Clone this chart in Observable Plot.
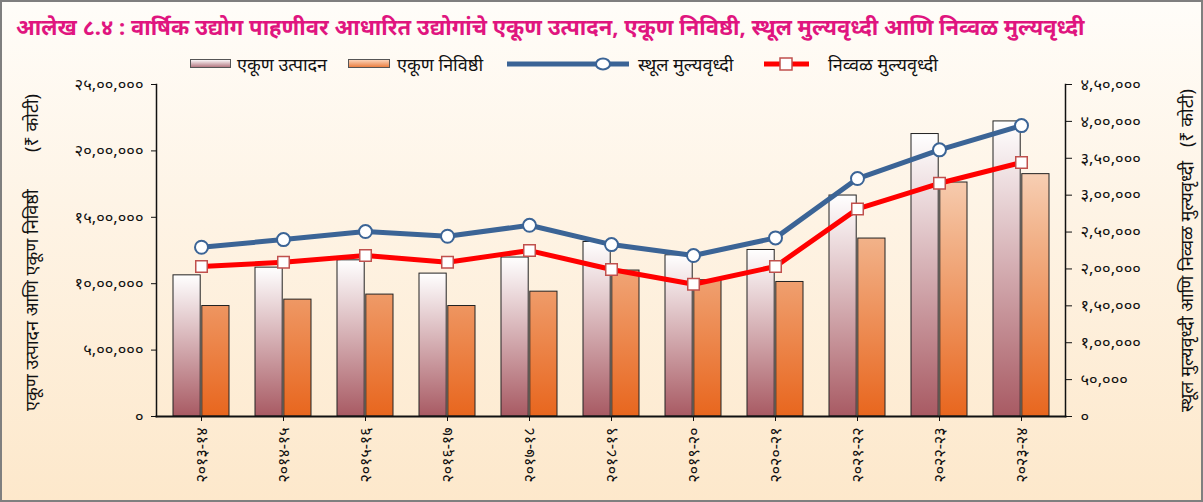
<!DOCTYPE html>
<html>
<head>
<meta charset="utf-8">
<script src="https://cdn.jsdelivr.net/npm/d3@7"></script>
<script src="https://cdn.jsdelivr.net/npm/@observablehq/plot@0.6"></script>
<style>
  html, body { margin: 0; padding: 0; }
  body { width: 1203px; height: 502px; overflow: hidden; font-family: "Noto Sans", "Noto Sans Devanagari", "Lohit Devanagari", sans-serif; }
  #wrap { position: relative; width: 1203px; height: 502px; background: linear-gradient(to bottom, #fffdf9 0%, #fef4e6 40%, #fde8cb 100%); }
  #border { position: absolute; left: 0; top: 0; width: 1203px; height: 502px; box-sizing: border-box; border: 2px solid #7f7f7f; pointer-events: none; }
  #title { position: absolute; left: 16px; top: 11px; font-size: 22px; font-weight: bold; color: #e0157f; white-space: nowrap; }
  #legend { position: absolute; left: 0; top: 52px; width: 1203px; height: 24px; font-size: 18px; color: #111; }
  #legend .item { position: absolute; top: 0; display: flex; align-items: center; height: 24px; white-space: nowrap; }
  #chart { position: absolute; left: 0; top: 76px; }
</style>
</head>
<body>
<div id="wrap">
  <div id="title"></div>
  <div id="legend"></div>
  <div id="chart"></div>
  <div id="border"></div>
</div>
<script>
const titleText = "आलेख ८.४ : वार्षिक उद्योग पाहणीवर आधारित उद्योगांचे एकूण उत्पादन, एकूण निविष्ठी, स्थूल मुल्यवृध्दी आणि निव्वळ मुल्यवृध्दी";
const years = ["२०१३-१४","२०१४-१५","२०१५-१६","२०१६-१७","२०१७-१८","२०१८-१९","२०१९-२०","२०२०-२१","२०२१-२२","२०२२-२३","२०२३-२४"];
const seriesNames = ["एकूण उत्पादन", "एकूण निविष्ठी", "स्थूल मुल्यवृध्दी", "निव्वळ मुल्यवृध्दी"];
// Left axis (₹ crore)
const grossOutput = [1063000, 1121000, 1176000, 1076000, 1197000, 1314000, 1214000, 1254000, 1664000, 2127000, 2222000];
const totalInput  = [832000, 880000, 918000, 832000, 940000, 1099000, 1026000, 1013000, 1340000, 1762000, 1825000];
// Right axis (₹ crore)
const gva = [229400, 239800, 250700, 244300, 259200, 233000, 218200, 242100, 322500, 361400, 394300];
const nva = [203300, 209100, 218200, 209100, 224900, 199200, 179300, 203300, 281400, 316100, 344200];
const leftTicks = [0, 500000, 1000000, 1500000, 2000000, 2500000];
const rightTicks = [0, 50000, 100000, 150000, 200000, 250000, 300000, 350000, 400000, 450000];
const leftLabel = "एकूण उत्पादन आणि एकूण निविष्ठी\u00a0\u00a0\u00a0\u00a0\u00a0\u00a0\u00a0\u00a0(₹ कोटी)";
const rightLabel = "स्थूल मुल्यवृध्दी आणि निव्वळ मुल्यवृध्दी\u00a0\u00a0\u00a0(₹ कोटी)";

const devDigits = "०१२३४५६७८९";
const toDev = s => String(s).replace(/[0-9]/g, d => devDigits[+d]);
function indian(n) {
  const s = String(Math.round(n));
  if (s.length <= 3) return s;
  const last3 = s.slice(-3);
  const rest = s.slice(0, -3).replace(/\B(?=(\d{2})+(?!\d))/g, ",");
  return rest + "," + last3;
}
const fmt = n => toDev(indian(n));

const k = leftTicks[leftTicks.length - 1] / rightTicks[rightTicks.length - 1]; // right->left scale factor

const bars = years.map((y, i) => ({year: y, out: grossOutput[i], inp: totalInput[i]}));
const lines = years.map((y, i) => ({year: y, gva: gva[i] * k, nva: nva[i] * k}));

document.getElementById("title").textContent = titleText;

// Legend
const legend = document.getElementById("legend");
function addItem(left, swatchSvg, text, gap) {
  const d = document.createElement("div");
  d.className = "item";
  d.style.left = left + "px";
  d.innerHTML = swatchSvg + `<span style="margin-left:${gap}px">${text}</span>`;
  legend.appendChild(d);
}
addItem(190, `<svg width="41" height="10"><defs><linearGradient id="lg1" x1="0" y1="0" x2="0" y2="1"><stop offset="0" stop-color="#ffffff"/><stop offset="1" stop-color="#b0707a"/></linearGradient></defs><rect x="0.5" y="0.5" width="40" height="8" fill="url(#lg1)" stroke="#555"/></svg>`, seriesNames[0], 6);
addItem(348, `<svg width="42" height="10"><defs><linearGradient id="lg2" x1="0" y1="0" x2="0" y2="1"><stop offset="0" stop-color="#fbd8c0"/><stop offset="1" stop-color="#ea7a3a"/></linearGradient></defs><rect x="0.5" y="0.5" width="41" height="8" fill="url(#lg2)" stroke="#555"/></svg>`, seriesNames[1], 7);
addItem(506, `<svg width="124" height="16"><line x1="1" y1="8" x2="123" y2="8" stroke="#3b6496" stroke-width="5"/><ellipse cx="97" cy="8" rx="7" ry="5.5" fill="#fff" stroke="#3b6496" stroke-width="2"/></svg>`, seriesNames[2], 8);
addItem(764, `<svg width="45" height="16"><line x1="0" y1="8" x2="45" y2="8" stroke="#ff0000" stroke-width="5"/><rect x="16" y="2" width="12" height="12" fill="#fff" stroke="#c0504d" stroke-width="1.5"/></svg>`, seriesNames[3], 19);

const W = 1203, H = 426;
const plot = Plot.plot({
  width: W,
  height: H,
  marginLeft: 156,
  marginRight: W - 1065,
  marginTop: 8,
  marginBottom: 86,
  style: {background: "transparent", fontFamily: "'Noto Sans', 'Noto Sans Devanagari', sans-serif", fontSize: "14px", color: "#111", overflow: "visible"},
  x: {type: "band", domain: years, padding: 0},
  y: {domain: [0, leftTicks[leftTicks.length - 1]]},
  marks: [
    Plot.barY(bars, {x: "year", y: "out", insetLeft: 13, insetRight: 41.8, fill: "url(#gOut)", stroke: "#222", strokeWidth: 1}),
    Plot.barY(bars, {x: "year", y: "inp", insetLeft: 41.8, insetRight: 13, fill: "url(#gInp)", stroke: "#222", strokeWidth: 1}),
    Plot.line(lines, {x: "year", y: "gva", stroke: "#3b6496", strokeWidth: 5}),
    Plot.dot(lines, {x: "year", y: "gva", symbol: "circle", r: 6.5, fill: "#fff", stroke: "#3b6496", strokeWidth: 2}),
    Plot.line(lines, {x: "year", y: "nva", stroke: "#ff0000", strokeWidth: 5}),
    Plot.dot(lines, {x: "year", y: "nva", symbol: "square", r: 6.5, fill: "#fff", stroke: "#c0504d", strokeWidth: 1.5}),
    Plot.axisX({tickRotate: -90, tickSize: 5, tickPadding: 6, label: null, fontSize: 16}),
    Plot.axisY(leftTicks, {anchor: "left", tickSize: 5, tickPadding: 8, tickFormat: fmt, label: null, fontSize: 16.5}),
    Plot.axisY(rightTicks.map(v => v * k), {anchor: "right", tickSize: 6, tickPadding: 9, tickFormat: d => fmt(d / k), label: null, fontSize: 16.5}),
    Plot.frame({anchor: "left", stroke: "#111", strokeWidth: 1.5}),
    Plot.frame({anchor: "right", stroke: "#111", strokeWidth: 1.5}),
    Plot.frame({anchor: "bottom", stroke: "#111", strokeWidth: 2}),
    Plot.text([leftLabel], {text: d => d, frameAnchor: "left", dx: -124, dy: 2, rotate: -90, textAnchor: "middle", lineAnchor: "middle", fontSize: 18, fill: "#111"}),
    Plot.text([rightLabel], {text: d => d, frameAnchor: "right", dx: 1187 - 1065, dy: 0, rotate: -90, textAnchor: "middle", lineAnchor: "middle", fontSize: 18, fill: "#111"})
  ]
});

// gradients
const ns = "http://www.w3.org/2000/svg";
const defs = document.createElementNS(ns, "defs");
defs.innerHTML = `
  <linearGradient id="gOut" x1="0" y1="0" x2="0" y2="1">
    <stop offset="0" stop-color="#ffffff"/>
    <stop offset="1" stop-color="#a85a63"/>
  </linearGradient>
  <linearGradient id="gInp" gradientUnits="userSpaceOnUse" x1="0" y1="8" x2="0" y2="340">
    <stop offset="0" stop-color="#fff6ee"/>
    <stop offset="0.45" stop-color="#f2b48c"/>
    <stop offset="1" stop-color="#e8661e"/>
  </linearGradient>`;
plot.insertBefore(defs, plot.firstChild);
document.getElementById("chart").appendChild(plot);
</script>
</body>
</html>
